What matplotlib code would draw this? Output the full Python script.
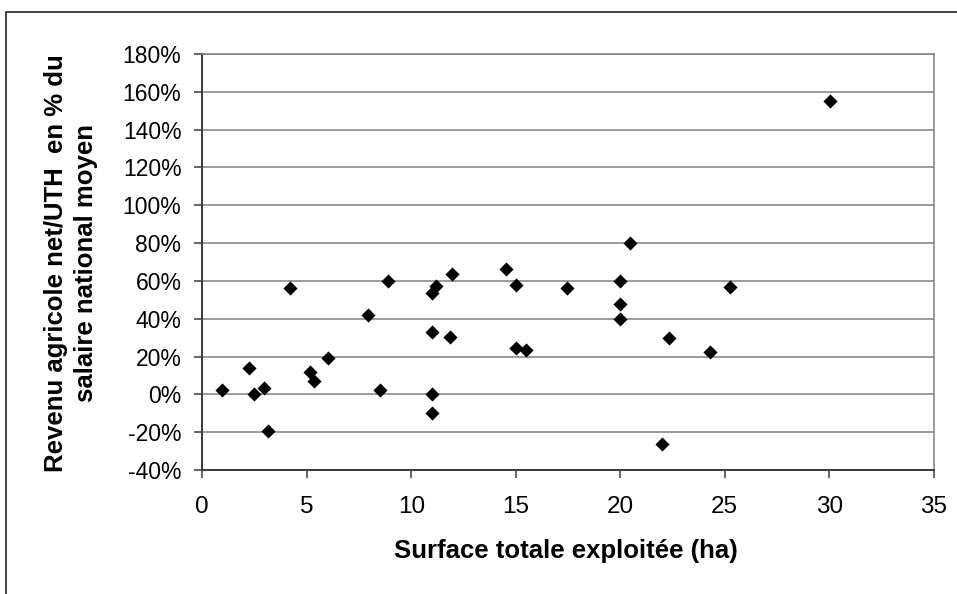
import numpy as np
import matplotlib

matplotlib.use("Agg")
import matplotlib.pyplot as plt
from matplotlib.patches import Rectangle
from matplotlib.ticker import FuncFormatter

# -------------------- Data --------------------
surface_ha = [
    0.93, 2.25, 2.47, 2.95, 3.14, 4.2, 5.15, 5.34, 6.03, 7.93, 8.87,
    8.5, 10.99, 10.99, 10.97, 11.2, 10.97, 11.85, 11.95, 14.52, 15.01,
    17.46, 20.46, 19.99, 19.99, 19.99, 15.0, 15.49, 22.34, 24.29, 21.98,
    25.25, 30.03,
]
revenu_pct = [
    2.1, 13.7, 0.0, 3.2, -19.2, 56.0, 11.8, 7.2, 19.2, 42.1, 60.2,
    2.1, 0.0, -9.7, 53.6, 57.4, 32.8, 30.5, 63.4, 66.4, 58.1,
    56.0, 80.3, 60.2, 47.6, 40.0, 24.3, 23.5, 29.6, 22.2, -26.0,
    56.9, 155.2,
]
x_ticks = [0, 5, 10, 15, 20, 25, 30, 35]
y_ticks = [-40, -20, 0, 20, 40, 60, 80, 100, 120, 140, 160, 180]

xlabel = "Surface totale exploitée (ha)"
ylabel = "Revenu agricole net/UTH  en % du\nsalaire national moyen"

# -------------------- Layout --------------------
W, H = 957, 594
plt.rcParams["font.family"] = ["Liberation Sans", "DejaVu Sans"]

fig = plt.figure(figsize=(W / 100, H / 100), dpi=100)
left, right, top, bottom = 202.3, 933.7, 54.0, 470.0
ax = fig.add_axes([left / W, 1 - bottom / H, (right - left) / W, (bottom - top) / H])

# outer chart frame (cropped on right and bottom in the reference)
fig.patches.append(
    Rectangle((5.5 / W, -0.1), 1.2, 1 - 11.5 / H + 0.1, transform=fig.transFigure,
              fill=False, edgecolor="#222222", linewidth=1.2)
)

ax.scatter(surface_ha, revenu_pct, marker="D", s=7.2 ** 2, color="black",
           linewidths=0, zorder=3)

ax.set_xlim(0, 35)
ax.set_ylim(-40, 180)
ax.set_xticks(x_ticks)
ax.set_yticks(y_ticks)
ax.yaxis.set_major_formatter(FuncFormatter(lambda v, _: f"{v:.0f}%"))

ax.yaxis.grid(True, color="#808080", linewidth=1.1)
ax.set_axisbelow(True)

for side in ["top", "right"]:
    ax.spines[side].set_color("#808080")
    ax.spines[side].set_linewidth(1.1)
for side in ["left", "bottom"]:
    ax.spines[side].set_color("#3a3a3a")
    ax.spines[side].set_linewidth(1.4)

ax.tick_params(axis="y", direction="out", length=6, width=1.1, color="#3a3a3a",
               labelsize=16.5, pad=9)
ax.tick_params(axis="x", direction="out", length=6, width=1.1, color="#3a3a3a",
               labelsize=17.5, pad=13)

fig.text(566 / W, 1 - 551 / H, xlabel, ha="center", va="center",
         fontsize=18.5, fontweight="bold")
fig.text(71 / W, 1 - 263 / H, ylabel, ha="center", va="center", rotation=90,
         fontsize=18.5, fontweight="bold", linespacing=1.3, multialignment="center")

fig.savefig("out.png", dpi=100)
